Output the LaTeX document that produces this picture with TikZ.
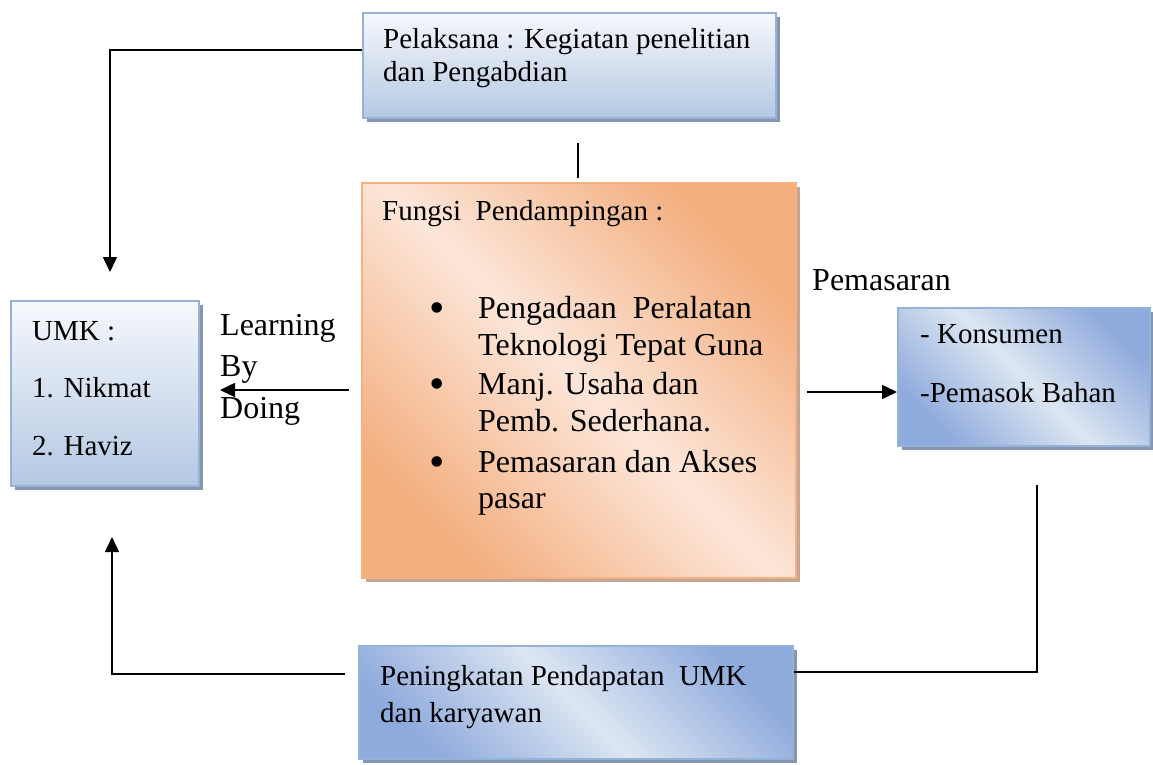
\documentclass[tikz,border=0pt]{standalone}
\usepackage{fontspec}
\setmainfont{Liberation Serif}
\usetikzlibrary{arrows.meta,shadows}

\definecolor{blueedge}{HTML}{95B3D7}
\definecolor{bluedeep}{HTML}{8FAADC}
\definecolor{bluepale}{HTML}{DCE6F2}
\definecolor{bluetop}{HTML}{F6F8FC}
\definecolor{bluebottom}{HTML}{B4C8E3}
\definecolor{blueshadow}{HTML}{8696B0}
\definecolor{orangedeep}{HTML}{F3AE7E}
\definecolor{orangepale}{HTML}{FCE6D9}
\definecolor{orangeedge}{HTML}{F4B183}
\definecolor{orangeshadow}{HTML}{C4A594}

\tikzset{
  x=1pt, y=-1pt,
  box/.style={rectangle, inner sep=0pt, line width=2pt, anchor=north west},
  vbluebox/.style={box, draw=blueedge, top color=bluetop, bottom color=bluebottom,
    general shadow={fill=blueshadow, shadow xshift=4pt, shadow yshift=-4pt}},
  dbluebox/.style={box, draw=blueedge, top color=bluedeep, bottom color=bluedeep,
    middle color=bluepale, shading angle=-45,
    general shadow={fill=blueshadow, shadow xshift=4pt, shadow yshift=-4pt}},
  orangebox/.style={box, draw=orangeedge, top color=orangedeep, bottom color=orangedeep,
    middle color=orangepale, shading angle=-45,
    general shadow={fill=orangeshadow, shadow xshift=4pt, shadow yshift=-4pt}},
  txt/.style={anchor=base west, inner sep=0pt, font=\fontsize{29}{33}\selectfont},
  bigtxt/.style={anchor=base west, inner sep=0pt, font=\fontsize{32}{37}\selectfont},
  bullet/.style={anchor=base, inner sep=0pt, font=\fontsize{44}{44}\selectfont},
  line/.style={line width=1.6pt},
  arrow/.style={line width=1.6pt, -{Triangle[length=15pt,width=14pt]}},
}

\begin{document}
\begin{tikzpicture}
\useasboundingbox (0,0) rectangle (1153,765);

% boxes
\node[vbluebox, minimum width=413pt, minimum height=105pt] (P) at (362,12) {};
\node[orangebox, minimum width=434pt, minimum height=395pt] (F) at (361,182) {};
\node[vbluebox, minimum width=188pt, minimum height=185pt] (U) at (10,300) {};
\node[dbluebox, minimum width=252pt, minimum height=138pt] (R) at (897,307) {};
\node[dbluebox, minimum width=434pt, minimum height=113pt] (B) at (358,645) {};

% texts of the top box
\node[txt] (P1) at (383,49) {Pelaksana : Kegiatan penelitian};
\node[txt] (P2) at (383,82) {dan Pengabdian};

% texts of the central box
\node[txt] (F0) at (382,220) {Fungsi~ Pendampingan :};
\node[bullet] (b1) at (437,322) {•};
\node[bigtxt] (F1) at (478,318) {Pengadaan~ Peralatan};
\node[bigtxt] (F2) at (478,355) {Teknologi Tepat Guna};
\node[bullet] (b2) at (437,398) {•};
\node[bigtxt] (F3) at (478,394) {Manj. Usaha dan};
\node[bigtxt] (F4) at (478,431) {Pemb. Sederhana.};
\node[bullet] (b3) at (437,476) {•};
\node[bigtxt] (F5) at (478,472) {Pemasaran dan Akses};
\node[bigtxt] (F6) at (478,508) {pasar};

% texts of the UMK box
\node[txt] (U1) at (32,340) {UMK :};
\node[txt] (U2) at (32,397) {1. Nikmat};
\node[txt] (U3) at (32,455) {2. Haviz};

% texts of the market box
\node[bigtxt] (M0) at (812,290) {Pemasaran};
\node[txt] (R1) at (920,343) {- Konsumen};
\node[txt] (R2) at (920,402) {-Pemasok Bahan};

% texts of the bottom box
\node[txt] (B1) at (380,685) {Peningkatan Pendapatan~ UMK};
\node[txt] (B2) at (380,722) {dan karyawan};

% side label
\node[bigtxt] (L1) at (220,335) {Learning};
\node[bigtxt] (L2) at (220,376) {By};
\node[bigtxt] (L3) at (220,418) {Doing};

% connectors
\coordinate (topdrop) at (110,272);
\draw[arrow] (P.west |- 0,50) -| (topdrop);

\coordinate (linkA) at (578,143);
\coordinate (linkB) at (578,178);
\draw[line] (linkA) -- (linkB);

\coordinate (learnTip) at (220,390);
\draw[arrow] ([xshift=-12pt]F.west |- 0,390) -- (learnTip);

\draw[arrow] ([xshift=10pt]F.east |- 0,392) -- (R.west |- 0,392);

\coordinate (rightFoot) at (1037,485);
\draw[line] (rightFoot) |- (B.east |- 0,672);

\coordinate (umkRise) at (112,537);
\draw[arrow] ([xshift=-13pt]B.west |- 0,674) -| (umkRise);
\end{tikzpicture}
\end{document}
